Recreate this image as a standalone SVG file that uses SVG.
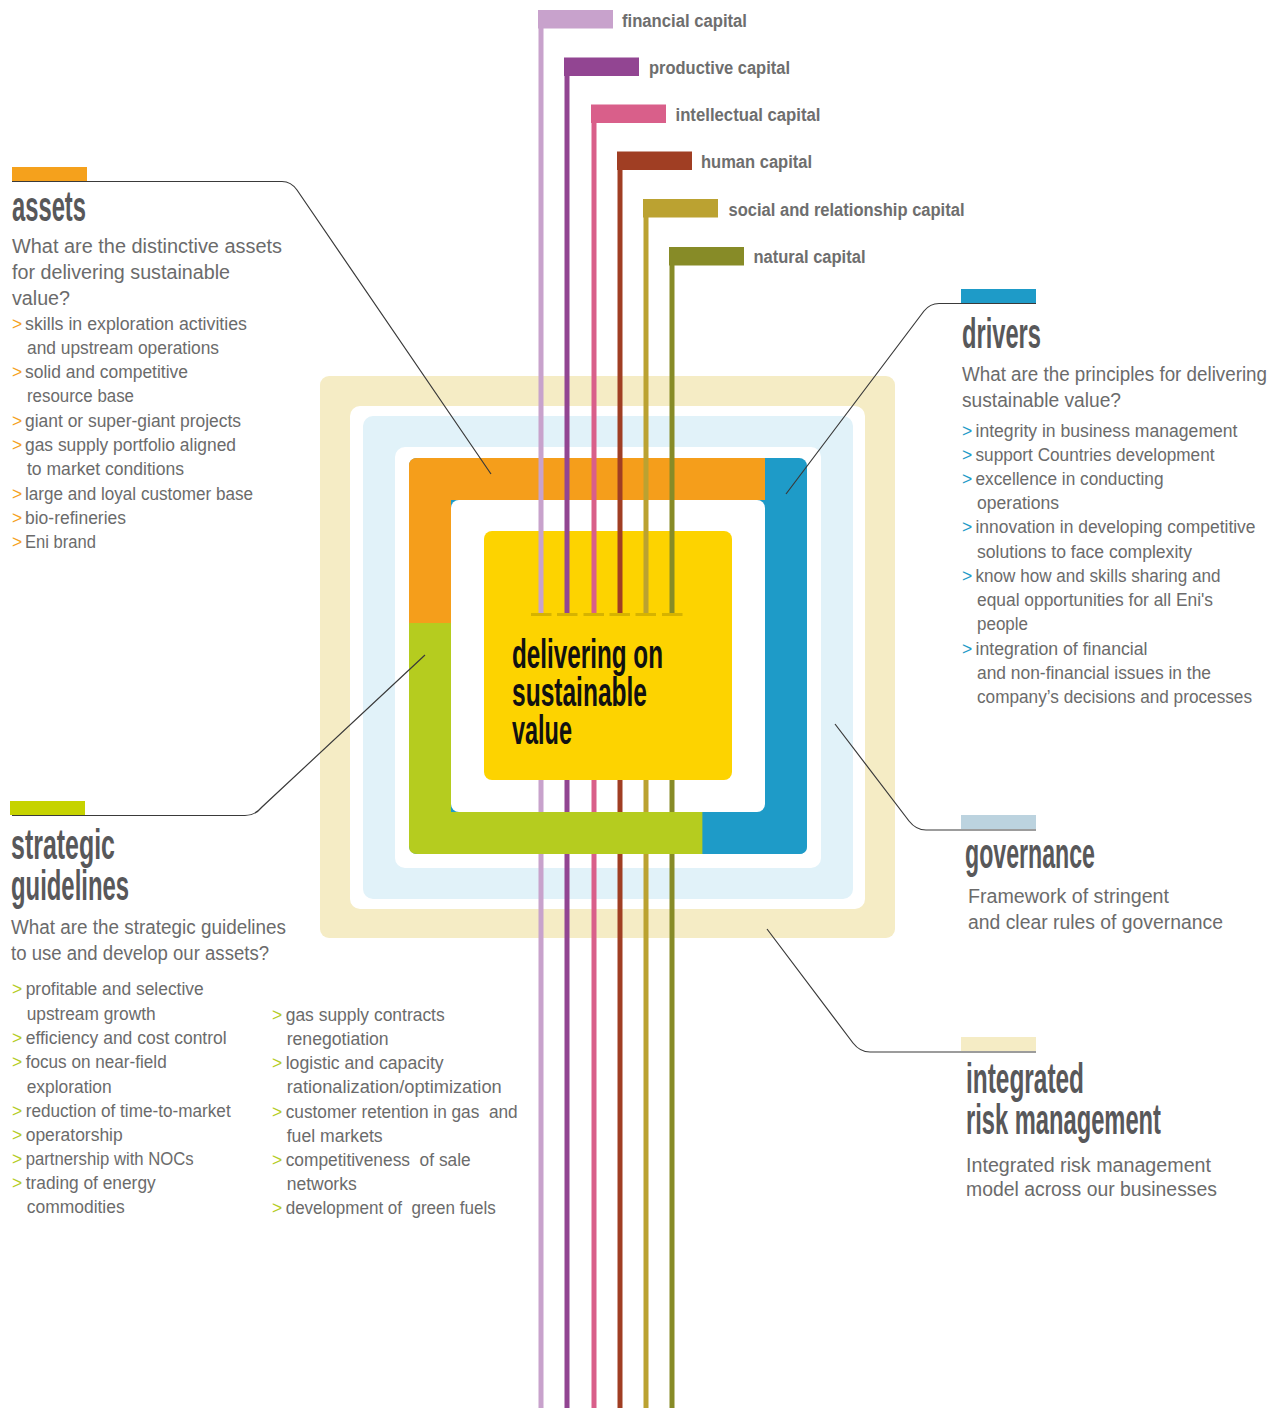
<svg xmlns="http://www.w3.org/2000/svg" width="1281" height="1408" viewBox="0 0 1281 1408">
<style>
.q{font-family:"Liberation Sans",Arial,sans-serif;font-size:20px;fill:#6b6b6b}
.b{font-family:"Liberation Sans",Arial,sans-serif;font-size:17.5px;fill:#6b6b6b}
.cap{font-family:"Liberation Sans",Arial,sans-serif;font-size:17.5px;font-weight:bold;fill:#6e6e6e}
.h{font-family:"Liberation Sans Narrow","Liberation Sans",Arial,sans-serif;font-size:42px;font-weight:bold;fill:#58585a}
.core{font-family:"Liberation Sans Narrow","Liberation Sans",Arial,sans-serif;font-size:41px;font-weight:bold;fill:#111}
.go{fill:#f5a11c}.gb{fill:#1e9bc8}.gg{fill:#b5cc1f}
.conn{fill:none;stroke:#3a3a3a;stroke-width:1.2}
.cl{stroke-width:5;fill:none}
.pre{white-space:pre}
</style>

<!-- concentric frame -->
<g id="frame">
<rect x="320" y="376" width="575" height="562" rx="9" fill="#f5ecc5"/>
<rect x="350" y="406" width="515" height="503" rx="10" fill="#fff"/>
<rect x="363" y="416" width="490" height="483" rx="10" fill="#e1f2f9"/>
<rect x="395" y="447" width="426" height="421" rx="10" fill="#fff"/>
<rect x="409" y="458" width="398" height="396" rx="8" fill="#1e9bc8"/>
<path d="M409,623 V466 Q409,458 417,458 H765 V500 H451 V623 Z" fill="#f59e1b"/>
<path d="M409,623 H451 V812 H702.5 V854 H417 Q409,854 409,846 Z" fill="#b5cc1f"/>
<rect x="451" y="500" width="314" height="312" rx="8" fill="#fff"/>
</g>

<g id="node-core">
<rect x="484" y="531" width="248" height="249" rx="8" fill="#fdd300"/>
<text class="core" x="512" y="668" textLength="151" lengthAdjust="spacingAndGlyphs">delivering on</text>
<text class="core" x="512" y="706" textLength="135" lengthAdjust="spacingAndGlyphs">sustainable</text>
<text class="core" x="512" y="744" textLength="60" lengthAdjust="spacingAndGlyphs">value</text>
</g>

<!-- capital lines -->
<g id="connectors">
<g id="capital-lines">
<line class="cl" x1="541" y1="10" x2="541" y2="613" stroke="#c8a2cc"/>
<line class="cl" x1="567" y1="58" x2="567" y2="613" stroke="#924592"/>
<line class="cl" x1="594" y1="105" x2="594" y2="613" stroke="#d95f8a"/>
<line class="cl" x1="620" y1="152" x2="620" y2="613" stroke="#a03e23"/>
<line class="cl" x1="646" y1="199" x2="646" y2="613" stroke="#bba231"/>
<line class="cl" x1="672" y1="247" x2="672" y2="613" stroke="#878b27"/>
<line class="cl" x1="541" y1="780" x2="541" y2="1408" stroke="#c8a2cc"/>
<line class="cl" x1="567" y1="780" x2="567" y2="1408" stroke="#924592"/>
<line class="cl" x1="594" y1="780" x2="594" y2="1408" stroke="#d95f8a"/>
<line class="cl" x1="620" y1="780" x2="620" y2="1408" stroke="#a03e23"/>
<line class="cl" x1="646" y1="780" x2="646" y2="1408" stroke="#bba231"/>
<line class="cl" x1="672" y1="780" x2="672" y2="1408" stroke="#878b27"/>
<g fill="#d6b300">
<rect x="531" y="613" width="20.5" height="3"/>
<rect x="557" y="613" width="20.5" height="3"/>
<rect x="583.5" y="613" width="20.5" height="3"/>
<rect x="609.5" y="613" width="20.5" height="3"/>
<rect x="635.5" y="613" width="20.5" height="3"/>
<rect x="662" y="613" width="20.5" height="3"/>
</g>
</g>
<path class="conn" d="M12,181.5 H282 Q291,181.5 297,190 L491,474"/>
<path class="conn" d="M786,494 L924,311 Q930,303.5 939,303.5 H1036"/>
<path class="conn" d="M425,655 L262,807 Q255,815.5 245,815.5 H12"/>
<path class="conn" d="M835,724 L909,821 Q916,830 926,830 H1036"/>
<path class="conn" d="M767,929 L853,1043 Q860,1052 870,1052 H1036"/>
</g>

<!-- bottom band of frame drawn over the capital lines -->
<g id="frame-bottom">
<rect x="451" y="812" width="251.5" height="42" fill="#b5cc1f"/>
<path d="M702.5,812 H807 V846 Q807,854 799,854 H702.5 Z" fill="#1e9bc8"/>
</g>

<!-- capitals -->
<g id="cap-financial">
<rect x="538" y="10" width="75" height="18.5" fill="#c8a2cc"/>
<text class="cap" x="622" y="26.5" textLength="125" lengthAdjust="spacingAndGlyphs">financial capital</text>
</g>
<g id="cap-productive">
<rect x="564" y="57.5" width="75" height="18.5" fill="#924592"/>
<text class="cap" x="649" y="74" textLength="141" lengthAdjust="spacingAndGlyphs">productive capital</text>
</g>
<g id="cap-intellectual">
<rect x="591" y="104.5" width="75" height="18.5" fill="#d95f8a"/>
<text class="cap" x="675.5" y="121" textLength="145" lengthAdjust="spacingAndGlyphs">intellectual capital</text>
</g>
<g id="cap-human">
<rect x="617" y="151.5" width="75" height="18.5" fill="#a03e23"/>
<text class="cap" x="701" y="168.3" textLength="111" lengthAdjust="spacingAndGlyphs">human capital</text>
</g>
<g id="cap-social">
<rect x="643" y="199" width="75" height="18.5" fill="#bba231"/>
<text class="cap" x="728.5" y="215.7" textLength="236" lengthAdjust="spacingAndGlyphs">social and relationship capital</text>
</g>
<g id="cap-natural">
<rect x="669" y="247" width="75" height="18.5" fill="#878b27"/>
<text class="cap" x="753.5" y="262.7" textLength="112" lengthAdjust="spacingAndGlyphs">natural capital</text>
</g>

<!-- assets -->
<g id="node-assets">
<rect x="12" y="167" width="75" height="14" fill="#f5a11c"/>
<text class="h" x="12" y="220.5" textLength="74" lengthAdjust="spacingAndGlyphs">assets</text>
<text class="q" x="12" y="253" textLength="270" lengthAdjust="spacingAndGlyphs">What are the distinctive assets</text>
<text class="q" x="12" y="279" textLength="218" lengthAdjust="spacingAndGlyphs">for delivering sustainable</text>
<text class="q" x="12" y="305" textLength="58" lengthAdjust="spacingAndGlyphs">value?</text>
<g class="b">
<text class="go" x="12" y="330">&gt;</text><text x="25" y="330" textLength="222" lengthAdjust="spacingAndGlyphs">skills in exploration activities</text>
<text x="27" y="354" textLength="192" lengthAdjust="spacingAndGlyphs">and upstream operations</text>
<text class="go" x="12" y="378">&gt;</text><text x="25" y="378" textLength="163" lengthAdjust="spacingAndGlyphs">solid and competitive</text>
<text x="27" y="402" textLength="107" lengthAdjust="spacingAndGlyphs">resource base</text>
<text class="go" x="12" y="427">&gt;</text><text x="25" y="427" textLength="216" lengthAdjust="spacingAndGlyphs">giant or super-giant projects</text>
<text class="go" x="12" y="451">&gt;</text><text x="25" y="451" textLength="211" lengthAdjust="spacingAndGlyphs">gas supply portfolio aligned</text>
<text x="27" y="475" textLength="157" lengthAdjust="spacingAndGlyphs">to market conditions</text>
<text class="go" x="12" y="500">&gt;</text><text x="25" y="500" textLength="228" lengthAdjust="spacingAndGlyphs">large and loyal customer base</text>
<text class="go" x="12" y="524">&gt;</text><text x="25" y="524" textLength="101" lengthAdjust="spacingAndGlyphs">bio-refineries</text>
<text class="go" x="12" y="548">&gt;</text><text x="25" y="548" textLength="71" lengthAdjust="spacingAndGlyphs">Eni brand</text>
</g>
</g>

<!-- drivers -->
<g id="node-drivers">
<rect x="961" y="289" width="75" height="14" fill="#1e9bc8"/>
<text class="h" x="962" y="348" textLength="79" lengthAdjust="spacingAndGlyphs">drivers</text>
<text class="q" x="962" y="381" textLength="305" lengthAdjust="spacingAndGlyphs">What are the principles for delivering</text>
<text class="q" x="962" y="407" textLength="159" lengthAdjust="spacingAndGlyphs">sustainable value?</text>
<g class="b">
<text class="gb" x="962" y="437">&gt;</text><text x="975.5" y="437" textLength="262" lengthAdjust="spacingAndGlyphs">integrity in business management</text>
<text class="gb" x="962" y="461">&gt;</text><text x="975.5" y="461" textLength="239" lengthAdjust="spacingAndGlyphs">support Countries development</text>
<text class="gb" x="962" y="485">&gt;</text><text x="975.5" y="485" textLength="188" lengthAdjust="spacingAndGlyphs">excellence in conducting</text>
<text x="977" y="509" textLength="82" lengthAdjust="spacingAndGlyphs">operations</text>
<text class="gb" x="962" y="533">&gt;</text><text x="975.5" y="533" textLength="280" lengthAdjust="spacingAndGlyphs">innovation in developing competitive</text>
<text x="977" y="558" textLength="215" lengthAdjust="spacingAndGlyphs">solutions to face complexity</text>
<text class="gb" x="962" y="582">&gt;</text><text x="975.5" y="582" textLength="245" lengthAdjust="spacingAndGlyphs">know how and skills sharing and</text>
<text x="977" y="606" textLength="236" lengthAdjust="spacingAndGlyphs">equal opportunities for all Eni's</text>
<text x="977" y="630" textLength="51" lengthAdjust="spacingAndGlyphs">people</text>
<text class="gb" x="962" y="655">&gt;</text><text x="975.5" y="655" textLength="172" lengthAdjust="spacingAndGlyphs">integration of financial</text>
<text x="977" y="679" textLength="234" lengthAdjust="spacingAndGlyphs">and non-financial issues in the</text>
<text x="977" y="703" textLength="275" lengthAdjust="spacingAndGlyphs">company’s decisions and processes</text>
</g>
</g>

<!-- strategic guidelines -->
<g id="node-strategic">
<rect x="10" y="801" width="75" height="14" fill="#c6d300"/>
<text class="h" x="11" y="859" textLength="104" lengthAdjust="spacingAndGlyphs">strategic</text>
<text class="h" x="11" y="900" textLength="118" lengthAdjust="spacingAndGlyphs">guidelines</text>
<text class="q" x="11" y="934" textLength="275" lengthAdjust="spacingAndGlyphs">What are the strategic guidelines</text>
<text class="q" x="11" y="960" textLength="258" lengthAdjust="spacingAndGlyphs">to use and develop our assets?</text>
<g class="b">
<text class="gg" x="12" y="995">&gt;</text><text x="25.7" y="995" textLength="178" lengthAdjust="spacingAndGlyphs">profitable and selective</text>
<text x="26.7" y="1020" textLength="129" lengthAdjust="spacingAndGlyphs">upstream growth</text>
<text class="gg" x="12" y="1044">&gt;</text><text x="25.7" y="1044" textLength="201" lengthAdjust="spacingAndGlyphs">efficiency and cost control</text>
<text class="gg" x="12" y="1068">&gt;</text><text x="25.7" y="1068" textLength="141" lengthAdjust="spacingAndGlyphs">focus on near-field</text>
<text x="26.7" y="1093" textLength="85" lengthAdjust="spacingAndGlyphs">exploration</text>
<text class="gg" x="12" y="1117">&gt;</text><text x="25.7" y="1117" textLength="205" lengthAdjust="spacingAndGlyphs">reduction of time-to-market</text>
<text class="gg" x="12" y="1141">&gt;</text><text x="25.7" y="1141" textLength="97" lengthAdjust="spacingAndGlyphs">operatorship</text>
<text class="gg" x="12" y="1165">&gt;</text><text x="25.7" y="1165" textLength="168" lengthAdjust="spacingAndGlyphs">partnership with NOCs</text>
<text class="gg" x="12" y="1189">&gt;</text><text x="25.7" y="1189" textLength="130" lengthAdjust="spacingAndGlyphs">trading of energy</text>
<text x="26.7" y="1213" textLength="98" lengthAdjust="spacingAndGlyphs">commodities</text>

<text class="gg" x="272" y="1021">&gt;</text><text x="285.7" y="1021" textLength="159" lengthAdjust="spacingAndGlyphs">gas supply contracts</text>
<text x="286.7" y="1045" textLength="102" lengthAdjust="spacingAndGlyphs">renegotiation</text>
<text class="gg" x="272" y="1069">&gt;</text><text x="285.7" y="1069" textLength="158" lengthAdjust="spacingAndGlyphs">logistic and capacity</text>
<text x="286.7" y="1093" textLength="215" lengthAdjust="spacingAndGlyphs">rationalization/optimization</text>
<text class="gg" x="272" y="1118">&gt;</text><text class="pre" x="285.7" y="1118" textLength="232" lengthAdjust="spacingAndGlyphs">customer retention in gas  and</text>
<text x="286.7" y="1142" textLength="96" lengthAdjust="spacingAndGlyphs">fuel markets</text>
<text class="gg" x="272" y="1166">&gt;</text><text class="pre" x="285.7" y="1166" textLength="185" lengthAdjust="spacingAndGlyphs">competitiveness  of sale</text>
<text x="286.7" y="1190" textLength="70" lengthAdjust="spacingAndGlyphs">networks</text>
<text class="gg" x="272" y="1214">&gt;</text><text class="pre" x="285.7" y="1214" textLength="210" lengthAdjust="spacingAndGlyphs">development of  green fuels</text>
</g>
</g>

<!-- governance -->
<g id="node-governance">
<rect x="961" y="815" width="75" height="14" fill="#bcd3df"/>
<text class="h" x="965" y="868" textLength="130" lengthAdjust="spacingAndGlyphs">governance</text>
<text class="q" x="968" y="903" textLength="201" lengthAdjust="spacingAndGlyphs">Framework of stringent</text>
<text class="q" x="968" y="929" textLength="255" lengthAdjust="spacingAndGlyphs">and clear rules of governance</text>
</g>

<!-- integrated risk management -->
<g id="node-risk">
<rect x="961" y="1037" width="75" height="14" fill="#f5ecc5"/>
<text class="h" x="966" y="1092.5" textLength="118" lengthAdjust="spacingAndGlyphs">integrated</text>
<text class="h" x="966" y="1133.5" textLength="195" lengthAdjust="spacingAndGlyphs">risk management</text>
<text class="q" x="966" y="1172" textLength="245" lengthAdjust="spacingAndGlyphs">Integrated risk management</text>
<text class="q" x="966" y="1196" textLength="251" lengthAdjust="spacingAndGlyphs">model across our businesses</text>
</g>
</svg>
